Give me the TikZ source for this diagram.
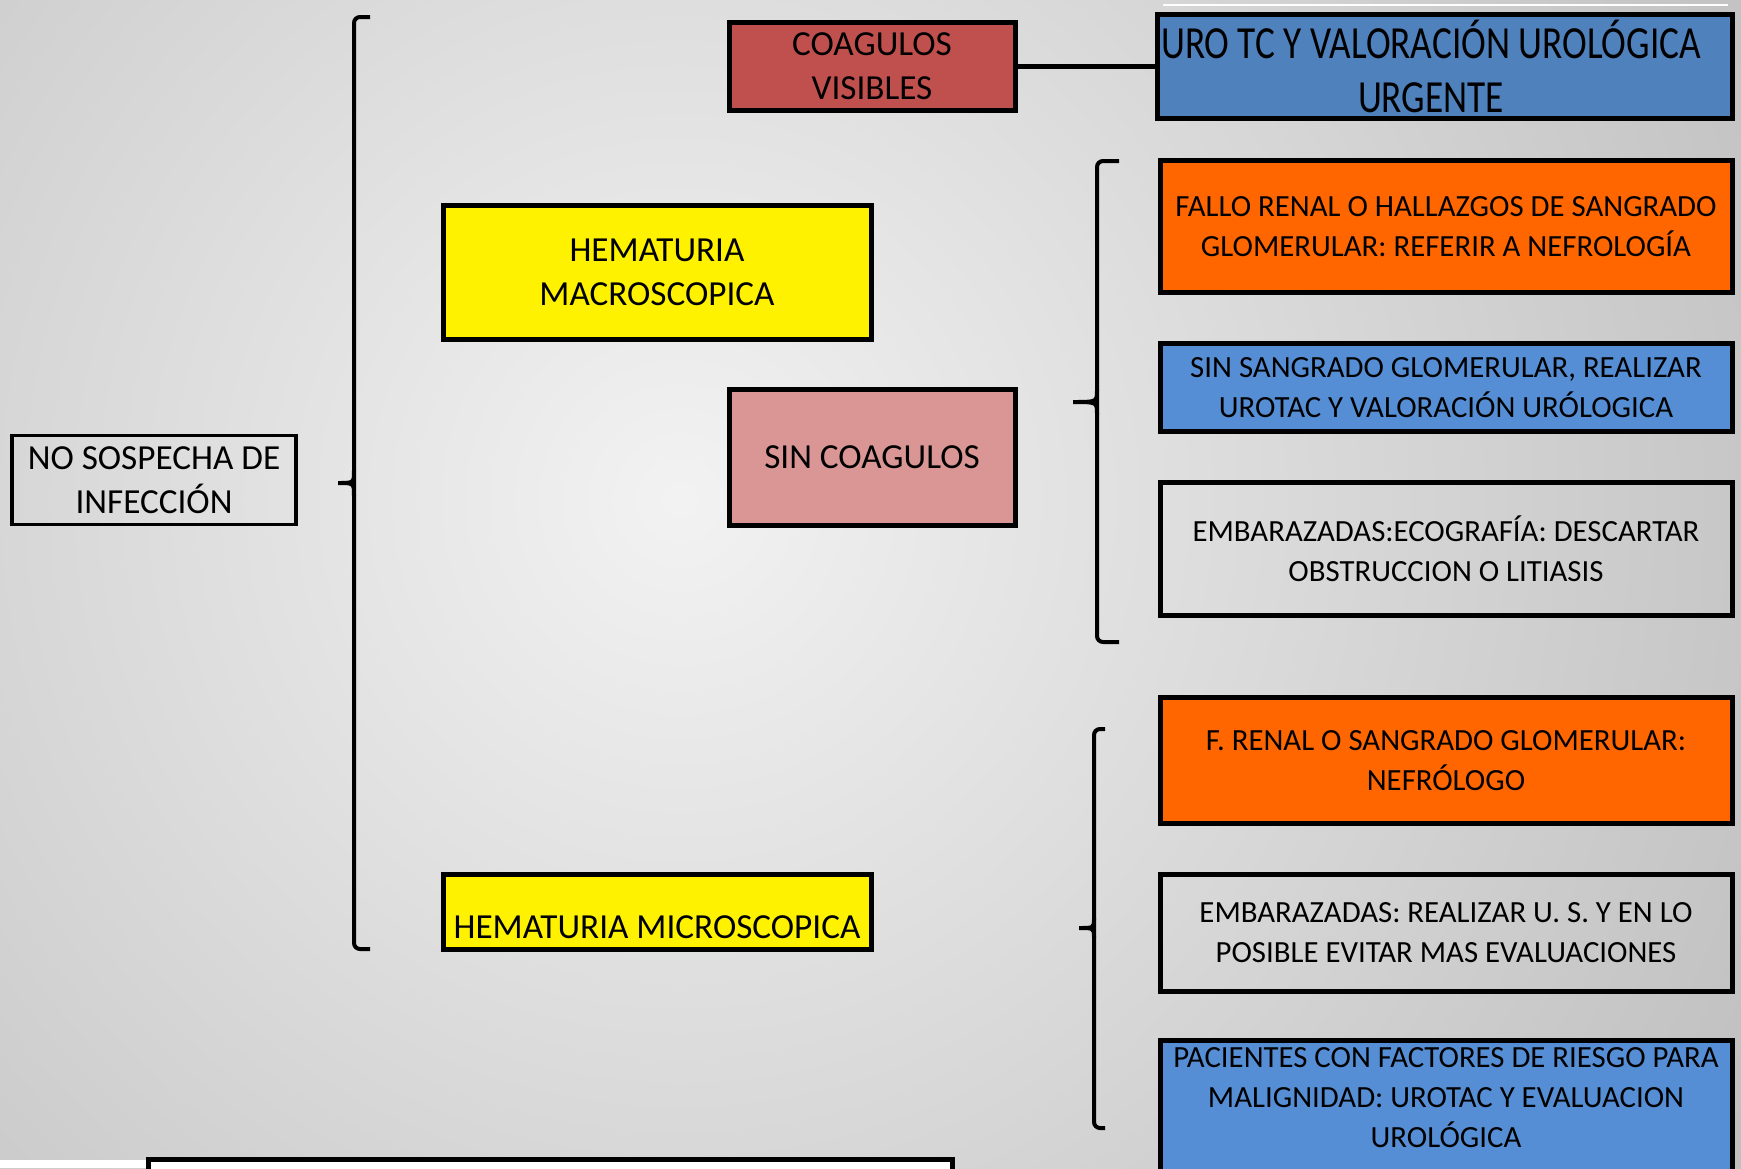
\documentclass[tikz,border=0pt]{standalone}
\usepackage{fontspec}
\setmainfont{Carlito}
\newfontfamily\narrowfont[FakeStretch=0.81]{Carlito}
\usetikzlibrary{positioning}

\definecolor{coagred}{HTML}{C0504D}
\definecolor{urgblue}{HTML}{4F81BD}
\definecolor{softblue}{HTML}{558ED5}
\definecolor{sinpink}{HTML}{D99694}
\definecolor{hotorange}{HTML}{FF6600}

\begin{document}
\begin{tikzpicture}[x=0.5pt,y=-0.5pt,
                box/.style={draw,line width=2.5pt,align=center,inner sep=2pt,
                  font=\fontsize{17.6}{22}\selectfont},
                side/.style={box,minimum width=286pt,font=\fontsize{15.4}{20}\selectfont},
                brk/.style={line width=2pt,rounded corners=3pt}]
	\useasboundingbox (0,0) rectangle (1741,1168);
	\clip (0,0) rectangle (1741,1168);
	\shade[inner color=white!95!black,outer color=white!71!black] (680,500) circle (1500);

	\node[box,line width=1.9pt,minimum width=142pt,minimum height=44.5pt] (nosos) at (154,480) {NO SOSPECHA DE\\INFECCIÓN};
	\node[box,fill=coagred,minimum width=143pt,minimum height=44pt] (coag) at (872,66) {COAGULOS\\VISIBLES};
	\node[box,fill=urgblue,minimum width=282pt,minimum height=52pt,
	      font=\narrowfont\fontsize{23}{27}\selectfont] (uro) at (1445,66) {URO TC Y VALORACIÓN UROLÓGICA\kern14pt\\URGENTE\kern14pt};
	\node[box,fill=yellow,minimum width=214pt,minimum height=67pt] (macro) at (657,272) {HEMATURIA\\MACROSCOPICA};
	\node[box,fill=sinpink,minimum width=143pt,minimum height=68pt] (sinc) at (872,457) {SIN COAGULOS};
	\node[box,fill=yellow,minimum width=214pt,text height=30.2pt,text depth=3.4pt] (micro) at (657,912) {HEMATURIA MICROSCOPICA};

	\node[side,fill=hotorange,minimum height=66pt] (fallo) at (1446,226.5) {FALLO RENAL O HALLAZGOS DE SANGRADO\\GLOMERULAR: REFERIR A NEFROLOGÍA};
	\node[side,fill=softblue,minimum height=44pt,below=23pt of fallo] (sinsang) {SIN SANGRADO GLOMERULAR, REALIZAR\\UROTAC Y VALORACIÓN URÓLOGICA};
	\node[side,minimum height=66.5pt,below=23pt of sinsang] (ecog) {EMBARAZADAS:ECOGRAFÍA: DESCARTAR\\OBSTRUCCION O LITIASIS};
	\node[side,fill=hotorange,minimum height=63pt] (frenal) at (1446,760.5) {F. RENAL O SANGRADO GLOMERULAR:\\NEFRÓLOGO};
	\node[side,minimum height=58.5pt,below=23pt of frenal] (embar) {EMBARAZADAS: REALIZAR U. S. Y EN LO\\POSIBLE EVITAR MAS EVALUACIONES};
	\node[side,fill=softblue,minimum height=70pt,below=22pt of embar,align=none] (pac)
	  {\raisebox{5.5pt}[\height][\depth]{\begin{tabular}{@{}c@{}}PACIENTES CON FACTORES DE RIESGO PARA\\MALIGNIDAD: UROTAC Y EVALUACION\\UROLÓGICA\end{tabular}}};

	\draw[line width=2.5pt] (coag.east) -- (coag.east -| uro.west);
	\draw[white,line width=1pt] (1163,5) -- (1728,5);

	% brackets
	\draw[brk] (370,17) -- (354,17) -- (354,949) -- (370,949);
	\draw[line width=2pt] (354,470) .. controls (354,483) .. (338,483) .. controls (354,483) .. (354,496);
	\draw[brk] (1119,161) -- (1097,161) -- (1097,642) -- (1119,642);
	\draw[line width=2pt] (1097,390) .. controls (1097,402) .. (1073,402) .. controls (1097,402) .. (1097,414);
	\draw[brk] (1105,729) -- (1094,729) -- (1094,1128) -- (1105,1128);
	\draw[line width=2pt] (1094,918) .. controls (1094,928) .. (1079,928) .. controls (1094,928) .. (1094,938);

	\fill[white] (0,1160) rectangle (148,1168);
	\draw[line width=2.5pt,fill=white] (148,1159) rectangle (952,1190);
\end{tikzpicture}
\end{document}
